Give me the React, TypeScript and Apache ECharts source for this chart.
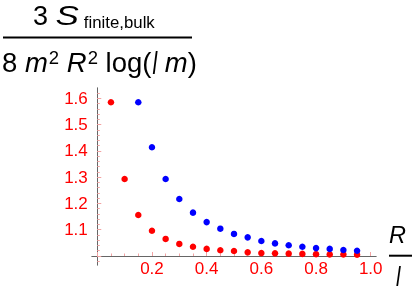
import React, { useEffect, useRef } from "react";
import * as echarts from "echarts";

// ---- data ----
const redX = [0.05, 0.1, 0.15, 0.2, 0.25, 0.3, 0.35, 0.4, 0.45, 0.5, 0.55, 0.6, 0.65, 0.7, 0.75, 0.8, 0.85, 0.9, 0.95];
const redY = [1.585, 1.293, 1.156, 1.096, 1.065, 1.046, 1.035, 1.027, 1.022, 1.019, 1.014, 1.011, 1.010, 1.009, 1.008, 1.007, 1.006, 1.006, 1.005];
const blueX = [0.15, 0.2, 0.25, 0.3, 0.35, 0.4, 0.45, 0.5, 0.55, 0.6, 0.65, 0.7, 0.75, 0.8, 0.85, 0.9, 0.95];
const blueY = [1.585, 1.414, 1.293, 1.217, 1.165, 1.129, 1.104, 1.084, 1.071, 1.057, 1.048, 1.041, 1.035, 1.030, 1.027, 1.023, 1.020];

const xLabels = [0.2, 0.4, 0.6, 0.8, 1.0];
const xMajorTicks = [0, 0.2, 0.4, 0.6, 0.8, 1.0];
const yLabels = [1.1, 1.2, 1.3, 1.4, 1.5, 1.6];
const yMajorTicks = [1.0, 1.1, 1.2, 1.3, 1.4, 1.5, 1.6];

const xMinorTicks: number[] = [];
for (let i = 0; i <= 20; i++) xMinorTicks.push(Math.round(i * 5) / 100);
const yMinorTicks: number[] = [];
for (let i = 49; i <= 81; i++) yMinorTicks.push(Math.round(i * 2) / 100);

const X_MIN = -0.02, X_MAX = 1.02;
const Y_MIN = 0.965, Y_MAX = 1.64;
const X_CROSS = 1.0; // y value where x axis sits

const FONT = '"Liberation Sans", Arial, sans-serif';
const RED = "#ff0000";
const BLUE = "#0000ff";
const TICK = "#f2a3a3";
const AXIS = "#666666";

type Piece = { t: string; size: number; italic?: boolean; dy?: number; sy?: number; sx?: number; x?: number; gap?: number };

function layoutPieces(pieces: Piece[], x0: number, baseline: number, color: string) {
  const ctx = document.createElement("canvas").getContext("2d")!;
  let x = x0;
  const out: any[] = [];
  for (const p of pieces) {
    const font = `${p.italic ? "italic " : ""}${p.size}px ${FONT}`;
    ctx.font = font;
    const sx = p.sx || 1;
    const sy = p.sy || 1;
    const w = ctx.measureText(p.t).width * sx;
    if (p.x != null) x = p.x;
    x += p.gap || 0;
    out.push({
      type: "text",
      x,
      y: baseline + (p.dy || 0) - 0.345 * p.size * sy,
      scaleX: sx,
      scaleY: sy,
      silent: true,
      style: { text: p.t, font, fill: color, align: "left", verticalAlign: "middle" },
    });
    x += w;
  }
  return out;
}

export default function App() {
  const ref = useRef<HTMLDivElement>(null);
  useEffect(() => {
    if (!ref.current) return;
    const chart = echarts.init(ref.current, undefined, { renderer: "svg" });

    const gridLeft = 91.8, gridTop = 87.8, gridW = 284.4, gridH = 177.4;
    const xOffset = -((X_CROSS - Y_MIN) / (Y_MAX - Y_MIN)) * gridH;

    const numerator = layoutPieces(
      [
        { t: "3 ", size: 27 },
        { t: "S", size: 28, italic: true, sx: 1.25 },
        { t: "finite,bulk", size: 16.8, dy: 3, gap: 5 },
      ],
      33,
      25,
      "#000"
    );
    const denominator = layoutPieces(
      [
        { t: "8 ", size: 27.5 },
        { t: "m", size: 27.5, italic: true },
        { t: "2", size: 18.5, dy: -8, gap: 1 },
        { t: " ", size: 27.5 },
        { t: "R", size: 27.5, italic: true },
        { t: "2", size: 18.5, dy: -8, gap: 1 },
        { t: " log(", size: 27.5 },
        { t: "l", size: 21, italic: true, sy: 1.5, dy: 2, gap: 1 },
        { t: " ", size: 27.5 },
        { t: "m", size: 27.5, italic: true },
        { t: ")", size: 27.5 },
      ],
      2,
      72,
      "#000"
    );
    const rLabel = layoutPieces([{ t: "R", size: 23.5, italic: true }], 389, 243.5, "#000");
    const lLabel = layoutPieces([{ t: "l", size: 20, italic: true, sy: 1.4 }], 396, 285.5, "#000");

    const commonX = {
      type: "value",
      min: X_MIN,
      max: X_MAX,
      position: "bottom",
      offset: xOffset,
      splitLine: { show: false },
    };
    const commonY = {
      type: "value",
      min: Y_MIN,
      max: Y_MAX,
      position: "left",
      splitLine: { show: false },
    };

    chart.setOption({
      animation: false,
      grid: { left: gridLeft, top: gridTop, width: gridW, height: gridH, containLabel: false, outerBoundsMode: "none" },
      xAxis: [
        {
          ...commonX,
          axisLine: { show: true, onZero: false, lineStyle: { color: AXIS, width: 1 } },
          axisTick: { show: true, inside: true, length: 4, customValues: xMajorTicks, lineStyle: { color: TICK } },
          axisLabel: {
            show: true,
            customValues: xLabels,
            color: RED,
            fontSize: 17,
            fontFamily: FONT,
            margin: 4,
            formatter: (v: number) => v.toFixed(1),
          },
        },
        {
          ...commonX,
          axisLine: { show: false, onZero: false },
          axisTick: { show: true, inside: true, length: 2.5, customValues: xMinorTicks, lineStyle: { color: TICK } },
          axisLabel: { show: false },
        },
      ],
      yAxis: [
        {
          ...commonY,
          axisLine: { show: true, onZero: true, onZeroAxisIndex: 0, lineStyle: { color: AXIS, width: 1 } },
          axisTick: { show: true, inside: true, length: 4, customValues: yMajorTicks, lineStyle: { color: TICK } },
          axisLabel: {
            show: true,
            customValues: yLabels,
            color: RED,
            fontSize: 17,
            fontFamily: FONT,
            margin: 4,
            formatter: (v: number) => v.toFixed(1),
          },
        },
        {
          ...commonY,
          axisLine: { show: false, onZero: true, onZeroAxisIndex: 0 },
          axisTick: { show: true, inside: true, length: 2.5, customValues: yMinorTicks, lineStyle: { color: TICK } },
          axisLabel: { show: false },
        },
      ],
      series: [
        {
          type: "scatter",
          xAxisIndex: 0,
          yAxisIndex: 0,
          symbolSize: 6.5,
          itemStyle: { color: RED, opacity: 1 },
          data: redX.map((x, i) => [x, redY[i]]),
        },
        {
          type: "scatter",
          xAxisIndex: 0,
          yAxisIndex: 0,
          symbolSize: 6.5,
          itemStyle: { color: BLUE, opacity: 1 },
          data: blueX.map((x, i) => [x, blueY[i]]),
        },
      ],
      graphic: [
        ...numerator,
        { type: "line", silent: true, shape: { x1: 3, y1: 37.5, x2: 192, y2: 37.5 }, style: { stroke: "#000", lineWidth: 2 } },
        ...denominator,
        ...rLabel,
        { type: "line", silent: true, shape: { x1: 389, y1: 255.7, x2: 412, y2: 255.7 }, style: { stroke: "#000", lineWidth: 2 } },
        ...lLabel,
      ],
    });
    return () => chart.dispose();
  }, []);
  return <div ref={ref} style={{ position: "fixed", left: 0, top: 0, width: 415, height: 291 }} />;
}
